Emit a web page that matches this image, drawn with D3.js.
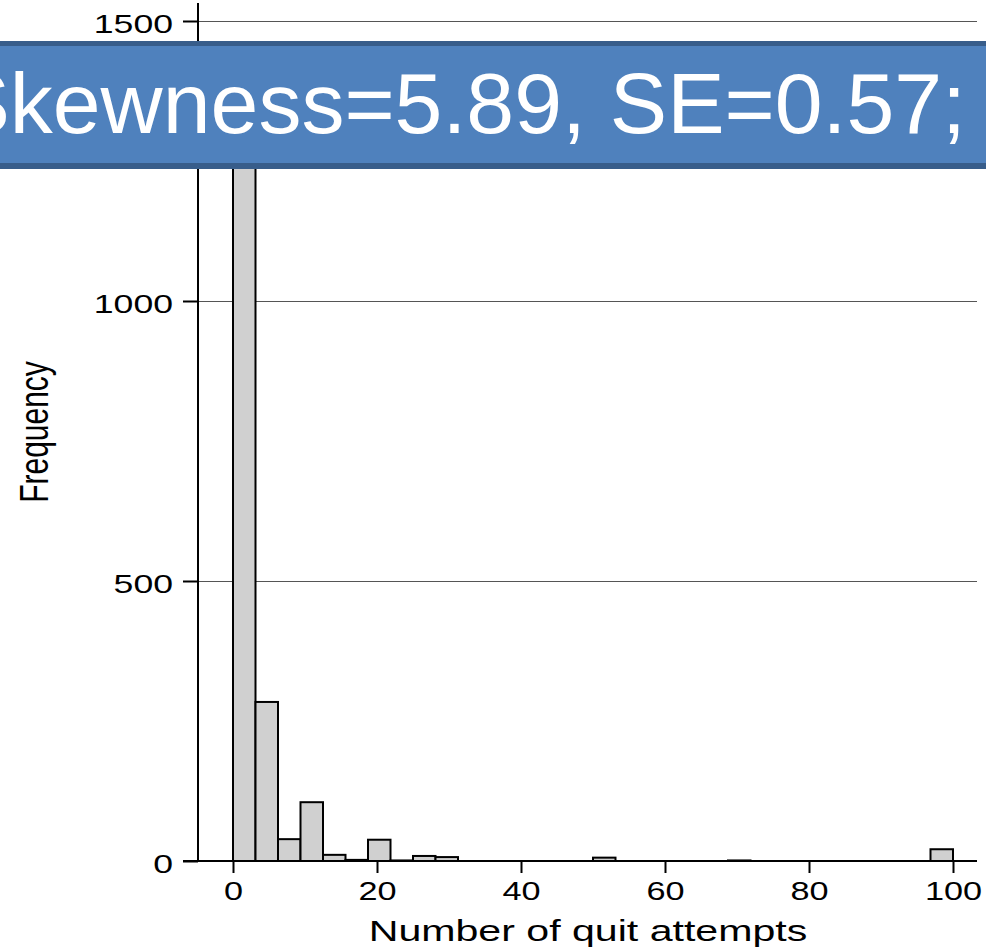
<!DOCTYPE html>
<html>
<head>
<meta charset="utf-8">
<script src="https://cdn.jsdelivr.net/npm/d3@7"></script>
<style>
  body { margin: 0; background: #fff; }
  svg { display: block; font-family: "Liberation Sans", Arial, sans-serif; }
</style>
</head>
<body>
<div id="chart"></div>
<script>
// histogram: 32 bins of width 100/32 from 0 to 100
var binStart = 0, binEnd = 100, binCount = 32;
var counts = [1420, 284, 39, 105, 11, 2, 38, 1, 9, 7,
              0, 0, 0, 0, 0, 0, 6, 0, 0, 0,
              0, 0, 1, 0, 0, 0, 0, 0, 0, 0,
              0, 21];
var xTicks = [0, 20, 40, 60, 80, 100];
var yTicks = [0, 500, 1000, 1500];
var xTitle = "Number of quit attempts";
var yTitle = "Frequency";
var banner = "Skewness=5.89, SE=0.57;";

var width = 986, height = 950;
var stretch = 1.37; // the original picture is stretched sideways

var binW = (binEnd - binStart) / binCount;
var bins = counts.map(function(c, i) {
  return {x0: binStart + i * binW, x1: binStart + (i + 1) * binW, n: c};
});

var x = d3.scaleLinear().domain([0, 100]).range([233, 953]);
var y = d3.scaleLinear().domain([0, 1500]).range([861, 21]);
var plotLeft = 198, plotRight = 977, plotTop = 3;

var svg = d3.select("#chart").append("svg")
  .attr("width", width).attr("height", height);

// gridlines
svg.append("g").selectAll("line")
  .data(yTicks.filter(function(d) { return d > 0; }))
  .enter().append("line")
  .attr("x1", plotLeft).attr("x2", plotRight)
  .attr("y1", function(d) { return y(d) + 0.5; })
  .attr("y2", function(d) { return y(d) + 0.5; })
  .style("stroke", "#555").style("stroke-width", 1)
  .style("shape-rendering", "crispEdges");

// bars
svg.append("g").selectAll("rect")
  .data(bins)
  .enter().append("rect")
  .attr("x", function(d) { return x(d.x0); })
  .attr("width", function(d) { return x(d.x1) - x(d.x0); })
  .attr("y", function(d) { return y(d.n); })
  .attr("height", function(d) { return y(0) - y(d.n); })
  .style("fill", "#d0d0d0")
  .style("stroke", "black")
  .style("stroke-width", 2);

// y axis
var yAxis = svg.append("g")
  .attr("transform", "translate(" + plotLeft + ",0)")
  .call(d3.axisLeft(y).tickValues(yTicks).tickSize(15).tickFormat(d3.format("d")));
yAxis.select(".domain").remove();
yAxis.append("line")
  .attr("x1", 0).attr("x2", 0).attr("y1", plotTop).attr("y2", y(0) + 1)
  .style("stroke", "black").style("stroke-width", 2);
yAxis.selectAll(".tick line").style("stroke", "black").style("stroke-width", 2);
yAxis.selectAll(".tick text")
  .attr("x", null).attr("dy", null)
  .attr("transform", "translate(-25,11) scale(" + stretch + ",1)")
  .style("font-size", "26px").style("fill", "black")
  .style("font-family", "'Liberation Sans', Arial, sans-serif");

// x axis
var xAxis = svg.append("g")
  .attr("transform", "translate(0," + y(0) + ")")
  .call(d3.axisBottom(x).tickValues(xTicks).tickSize(12).tickFormat(d3.format("d")));
xAxis.select(".domain").remove();
xAxis.append("line")
  .attr("x1", plotLeft - 15).attr("x2", plotRight).attr("y1", 0).attr("y2", 0)
  .style("stroke", "black").style("stroke-width", 2);
xAxis.selectAll(".tick line").style("stroke", "black").style("stroke-width", 2);
xAxis.selectAll(".tick text")
  .attr("y", null).attr("dy", null)
  .attr("transform", "translate(0,39) scale(" + stretch + ",1)")
  .style("font-size", "25px").style("fill", "black")
  .style("font-family", "'Liberation Sans', Arial, sans-serif");

// axis titles
svg.append("text")
  .attr("transform", "translate(588,941) scale(" + stretch + ",1)")
  .attr("text-anchor", "middle")
  .style("font-size", "30px")
  .text(xTitle);

svg.append("text")
  .attr("transform", "translate(48,432) scale(" + stretch + ",1) rotate(-90)")
  .attr("text-anchor", "middle")
  .style("font-size", "30px")
  .text(yTitle);

// banner over the top of the chart
svg.append("rect")
  .attr("x", -5).attr("y", 41).attr("width", width + 10).attr("height", 128)
  .style("fill", "#385d8a");
svg.append("rect")
  .attr("x", -5).attr("y", 46).attr("width", width + 10).attr("height", 117)
  .style("fill", "#4f81bd");
svg.append("text")
  .attr("x", 966).attr("y", 133)
  .attr("text-anchor", "end")
  .style("font-size", "86px")
  .style("fill", "white")
  .text(banner);
</script>
</body>
</html>
